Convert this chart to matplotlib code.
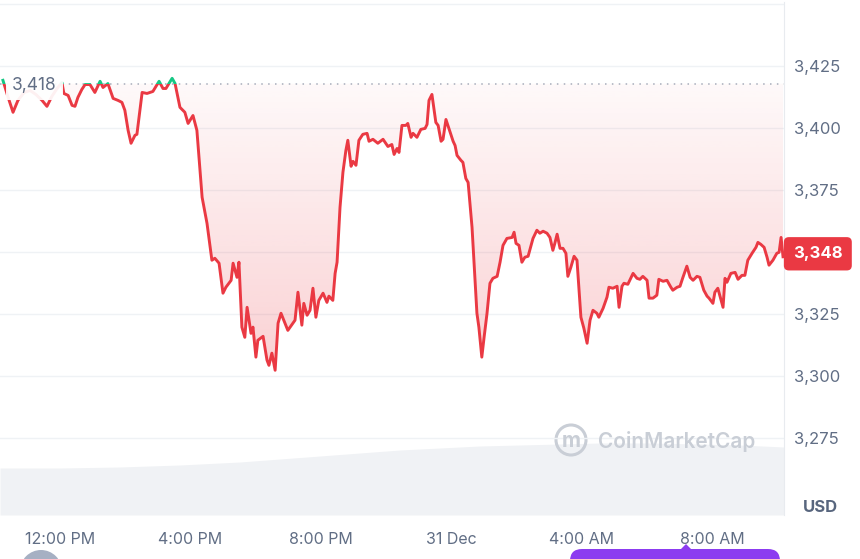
import numpy as np
import matplotlib
matplotlib.use("Agg")
import matplotlib.pyplot as plt
from matplotlib.patches import Rectangle, Circle, FancyBboxPatch, Polygon
from matplotlib.path import Path

plt.rcParams['font.family'] = ['Inter', 'DejaVu Sans']

# ETH / USD, last 24h (hours counted from 30 Dec 00:00)
times = [10.25, 10.40, 10.56, 10.71, 10.90, 11.08, 11.26, 11.45, 11.60, 11.75,
         11.91, 12.06, 12.12, 12.25, 12.37, 12.46, 12.55, 12.67, 12.77, 12.92,
         13.07, 13.23, 13.32, 13.47, 13.63, 13.78, 13.90, 13.99, 14.09, 14.18,
         14.30, 14.36, 14.52, 14.67, 14.85, 15.04, 15.16, 15.25, 15.44, 15.53,
         15.68, 15.83, 15.93, 16.08, 16.20, 16.36, 16.51, 16.66, 16.75, 16.88,
         17.00, 17.09, 17.25, 17.31, 17.43, 17.49, 17.58, 17.67, 17.74, 17.86,
         17.92, 18.01, 18.07, 18.23, 18.35, 18.41, 18.50, 18.60, 18.69, 18.78,
         18.90, 18.99, 19.21, 19.30, 19.42, 19.48, 19.58, 19.67, 19.76, 19.85,
         19.94, 20.07, 20.19, 20.25, 20.37, 20.44, 20.50, 20.59, 20.68, 20.77,
         20.83, 20.93, 20.99, 21.08, 21.17, 21.29, 21.42, 21.48, 21.60, 21.75,
         21.91, 22.06, 22.18, 22.25, 22.34, 22.40, 22.49, 22.61, 22.67, 22.77,
         22.83, 22.95, 23.07, 23.20, 23.26, 23.32, 23.41, 23.53, 23.60, 23.69,
         23.75, 23.84, 23.93, 24.06, 24.12, 24.18, 24.30, 24.36, 24.45, 24.52,
         24.64, 24.79, 24.85, 24.94, 25.01, 25.10, 25.19, 25.28, 25.41, 25.50,
         25.59, 25.71, 25.87, 25.93, 25.99, 26.08, 26.17, 26.26, 26.36, 26.51,
         26.63, 26.72, 26.82, 26.94, 27.03, 27.12, 27.18, 27.25, 27.34, 27.43,
         27.52, 27.58, 27.67, 27.77, 27.86, 27.98, 28.07, 28.17, 28.26, 28.35,
         28.47, 28.53, 28.66, 28.78, 28.84, 28.96, 29.09, 29.15, 29.24, 29.30,
         29.42, 29.52, 29.58, 29.70, 29.79, 29.88, 30.01, 30.07, 30.19, 30.31,
         30.37, 30.50, 30.62, 30.74, 30.80, 30.93, 31.02, 31.11, 31.23, 31.33,
         31.42, 31.54, 31.63, 31.75, 31.85, 31.91, 32.03, 32.09, 32.18, 32.34,
         32.40, 32.46, 32.58, 32.71, 32.80, 32.92, 33.01, 33.10, 33.23, 33.35,
         33.41, 33.50, 33.60, 33.69, 33.75, 33.87, 33.99, 34.06, 34.12, 34.18]

prices = [3419.4, 3412.9, 3406.5, 3411.3, 3414.5, 3415.3, 3413.7, 3411.3, 3408.9, 3412.9,
          3416.1, 3418.5, 3414.1, 3413.3, 3409.3, 3408.9, 3412.5, 3415.7, 3417.7, 3417.7,
          3414.5, 3419.0, 3416.5, 3418.1, 3412.1, 3411.3, 3410.5, 3407.3, 3399.2, 3394.0,
          3397.2, 3397.6, 3414.5, 3414.1, 3414.9, 3419.0, 3416.1, 3416.1, 3420.2, 3418.1,
          3408.5, 3406.5, 3402.0, 3405.2, 3399.2, 3372.2, 3361.7, 3346.8, 3347.6, 3345.6,
          3333.5, 3335.9, 3338.7, 3345.6, 3339.9, 3346.0, 3319.8, 3315.7, 3327.8, 3317.3,
          3319.8, 3307.7, 3314.5, 3316.1, 3306.5, 3304.4, 3309.3, 3302.4, 3321.4, 3325.4,
          3321.4, 3318.5, 3322.6, 3333.9, 3320.6, 3329.4, 3324.6, 3326.6, 3335.5, 3323.8,
          3330.6, 3333.5, 3329.8, 3332.3, 3330.6, 3341.5, 3346.0, 3368.1, 3382.3, 3391.1,
          3395.2, 3384.7, 3386.7, 3385.1, 3395.2, 3397.6, 3398.0, 3394.8, 3395.6, 3394.0,
          3395.6, 3392.7, 3393.5, 3389.5, 3391.9, 3390.3, 3401.2, 3401.2, 3402.0, 3396.4,
          3398.0, 3396.4, 3399.6, 3400.0, 3401.6, 3411.3, 3413.7, 3402.4, 3401.2, 3394.8,
          3395.6, 3403.6, 3400.0, 3394.8, 3393.1, 3389.1, 3387.1, 3386.3, 3379.8, 3378.2,
          3360.1, 3325.4, 3319.8, 3307.7, 3315.7, 3325.4, 3337.5, 3339.5, 3340.3, 3346.0,
          3352.8, 3355.6, 3356.0, 3358.1, 3353.6, 3352.8, 3346.0, 3348.0, 3348.4, 3355.6,
          3358.9, 3357.7, 3358.5, 3357.7, 3356.0, 3350.8, 3353.6, 3357.3, 3351.6, 3351.6,
          3349.6, 3340.3, 3343.9, 3348.4, 3346.8, 3323.8, 3319.4, 3313.3, 3322.6, 3326.6,
          3325.4, 3323.8, 3327.4, 3331.9, 3335.9, 3335.5, 3336.3, 3327.8, 3336.3, 3337.5,
          3337.1, 3339.9, 3341.5, 3339.5, 3339.1, 3340.3, 3338.7, 3331.5, 3331.5, 3332.7,
          3339.1, 3338.3, 3338.7, 3335.9, 3334.7, 3335.9, 3336.3, 3339.9, 3344.4, 3339.9,
          3338.7, 3340.3, 3339.9, 3334.7, 3332.3, 3331.5, 3329.4, 3333.9, 3335.5, 3327.8,
          3339.5, 3337.9, 3341.5, 3341.9, 3339.1, 3340.7, 3340.7, 3346.8, 3349.6, 3352.0,
          3354.0, 3353.2, 3352.0, 3348.0, 3344.8, 3346.8, 3349.6, 3350.0, 3356.0, 3348.2]

open_price = 3418

# 24h volume (relative units), shown as grey area at the bottom
vol_times = [10.16, 12.00, 13.84, 15.68, 17.52, 18.75, 19.98, 21.20, 22.43,
             23.66, 24.88, 26.11, 27.34, 28.56, 30.10, 31.63, 32.86, 34.21]
volume = [14.1, 14.1, 14.4, 15.0, 15.9, 16.8, 17.7, 18.6, 19.5,
          20.1, 20.7, 21.0, 21.3, 21.6, 21.6, 21.3, 21.0, 20.4]

tick_hours = [12, 16, 20, 24, 28, 32]
tick_labels = ['12:00 PM', '4:00 PM', '8:00 PM', '31 Dec', '4:00 AM', '8:00 AM']
price_ticks = [3275, 3300, 3325, 3350, 3375, 3400, 3425]

RED = '#ea3943'
GREEN = '#16c784'
GRID = '#eff2f5'
TXT = '#616e85'

t = np.array(times)
p = np.array(prices)
x0, x1 = 10.16, 34.21
y0, y1 = 3244, 3451

fig = plt.figure(figsize=(8.6, 5.59), dpi=100)
ax = fig.add_axes([0, 44 / 559, 784 / 860, 513 / 559])
ax2 = ax.twinx()
ax.set_zorder(ax2.get_zorder() + 1)
ax.patch.set_visible(False)

# volume
ax2.fill_between(vol_times, volume, 0, color='#f0f2f5', lw=0)
ax2.set_ylim(0, 153.9)
ax2.set_yticks([])
for s in ax2.spines.values():
    s.set_visible(False)

# grid
for v in price_ticks + [3450]:
    ax.axhline(v, color=GRID, lw=1, zorder=0)

# gradient fill between price and open
poly = ax.fill_between(t, p, open_price, where=p < open_price, interpolate=True,
                       facecolor='none', edgecolor='none')
clip = Path.make_compound_path(*poly.get_paths())
grad = np.zeros((200, 1, 4))
grad[..., :3] = matplotlib.colors.to_rgb(RED)
grad[:, 0, 3] = np.linspace(0.24, 0.03, 200)
im = ax.imshow(grad, extent=[x0, x1, 3298, open_price], origin='lower',
               aspect='auto', zorder=1, interpolation='bilinear')
im.set_clip_path(clip, ax.transData)

# dotted open line
ax.axhline(open_price, color='#a7adbb', lw=1.1, ls=(0, (1, 3.5)), zorder=2)

# price line, red below open, green above
lo = Rectangle((x0, y0), x1 - x0, open_price - y0, transform=ax.transData)
hi = Rectangle((x0, open_price), x1 - x0, y1 - open_price, transform=ax.transData)
l1, = ax.plot(t, p, color=RED, lw=2.1, zorder=3, solid_joinstyle='round')
l1.set_clip_path(lo)
l2, = ax.plot(t, p, color=GREEN, lw=2.1, zorder=3, solid_joinstyle='round')
l2.set_clip_path(hi)

ax.text(10.53, open_price - 0.7, f'{open_price:,}', color=TXT, fontsize=12.5,
        va='center', ha='left', zorder=5,
        bbox=dict(boxstyle='square,pad=0.35', fc='white', ec='none', alpha=0.93))

ax.set_xlim(x0, x1)
ax.set_ylim(y0, y1)
ax.set_xticks(tick_hours)
ax.set_xticklabels(tick_labels)
ax.yaxis.tick_right()
ax.set_yticks(price_ticks)
# 3,350 sits under the current-price tag
ax.set_yticklabels(['' if v == 3350 else f'{v:,}' for v in price_ticks])
ax.tick_params(axis='both', length=0, colors=TXT, labelsize=12)
ax.tick_params(axis='x', pad=12, labelsize=11.5)
ax.tick_params(axis='y', pad=7)
for k in ['left', 'bottom', 'top']:
    ax.spines[k].set_visible(False)
ax.spines['right'].set_color('#e8ebef')

# current price tag
ax.text(1.0115, prices[-1] + 1.2, f'{round(prices[-1]):,}', transform=ax.get_yaxis_transform(),
        color='white', fontsize=12, fontweight='bold', ha='left', va='center', zorder=6,
        bbox=dict(boxstyle='round,pad=0.55,rounding_size=0.3', fc=RED, ec='none'),
        clip_on=False)

fig.text(820 / 860, 1 - 507 / 559, 'USD', color='#58667e', fontsize=12,
         fontweight='bold', ha='center', va='center')

# watermark
wm = '#c9ced6'
fig.add_artist(Circle((5.71, 1.19), 0.15, transform=fig.dpi_scale_trans,
                      fill=False, ec=wm, lw=2.2))
fig.text(5.71 / 8.6, 1.18 / 5.59, 'm', color=wm, fontsize=15, fontweight='bold',
         ha='center', va='center')
fig.text(598 / 860, 1 - 441 / 559, 'CoinMarketCap', color=wm, fontsize=15,
         fontweight='semibold', ha='left', va='center')

# cut-off controls at the bottom edge
fig.add_artist(Circle((0.41, -0.12), 0.21, transform=fig.dpi_scale_trans,
                      color='#a6b0c3', lw=0))
fig.add_artist(FancyBboxPatch((5.70, -0.40), 2.10, 0.50,
                              boxstyle='round,pad=0,rounding_size=0.12',
                              transform=fig.dpi_scale_trans, color='#8c3cf0', lw=0))
fig.add_artist(Polygon([(6.80, 0.09), (6.86, 0.15), (6.92, 0.09)],
                       transform=fig.dpi_scale_trans, color='#8c3cf0', lw=0))

fig.savefig('out.png', dpi=100, facecolor='white')
